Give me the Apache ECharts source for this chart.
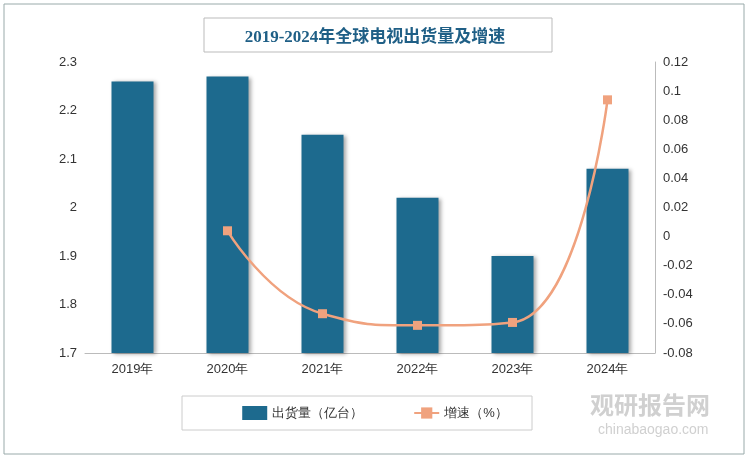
<!DOCTYPE html>
<html><head><meta charset="utf-8">
<script src="https://cdn.jsdelivr.net/npm/echarts@6/dist/echarts.min.js"></script>
<style>body{margin:0}#c{width:750px;height:459px}</style>
</head><body><div id="c"></div>
<script>
var years = ['2019年', '2020年', '2021年', '2022年', '2023年', '2024年'];
var shipments = [2.26, 2.27, 2.15, 2.02, 1.90, 2.08];
var growth = [null, 0.004, -0.053, -0.061, -0.059, 0.094];

var myChart = echarts.init(document.getElementById('c'));
var option = {
    animation: false,
    backgroundColor: '#fff',
    title: {
        text: '2019-2024年全球电视出货量及增速',
        left: 'center',
        top: 24,
        textStyle: {color: '#1f5f86', fontSize: 17, fontWeight: 'bold', fontFamily: 'Liberation Serif, Noto Sans CJK SC'}
    },
    graphic: [
        {type: 'rect', shape: {x: 4, y: 4, width: 740, height: 450}, style: {fill: 'none', stroke: '#9aa', lineWidth: 1}},
        {type: 'rect', shape: {x: 204, y: 18, width: 348, height: 34}, style: {fill: 'none', stroke: '#bbb', lineWidth: 1}},
        {type: 'rect', shape: {x: 182, y: 396, width: 350, height: 34}, style: {fill: 'none', stroke: '#ccc', lineWidth: 1}},
        {type: 'text', left: 590, top: 393, style: {text: '观研报告网', fill: '#d0d0d0', font: 'bold 24px Noto Sans CJK SC'}},
        {type: 'text', left: 598, top: 423, style: {text: 'chinabaogao.com', fill: '#d0d0d0', font: '14px sans-serif'}}
    ],
    legend: {
        bottom: 34,
        left: 'center',
        itemGap: 50,
        textStyle: {fontSize: 13, color: '#333'},
        data: [{name: '出货量（亿台）', icon: 'rect'}, {name: '增速（%）'}]
    },
    grid: {left: 85, right: 95, top: 62, bottom: 106},
    xAxis: {
        type: 'category',
        data: years,
        axisTick: {show: false},
        axisLine: {onZero: false, lineStyle: {color: '#bbb'}},
        axisLabel: {color: '#333', fontSize: 13, margin: 10}
    },
    yAxis: [
        {type: 'value', min: 1.7, max: 2.3, interval: 0.1,
         axisLabel: {color: '#333', fontSize: 13}, axisLine: {show: false}, splitLine: {show: false}},
        {type: 'value', min: -0.08, max: 0.12, interval: 0.02,
         axisLabel: {color: '#333', fontSize: 13}, axisLine: {show: true, lineStyle: {color: '#bbb'}}, splitLine: {show: false}}
    ],
    series: [
        {name: '出货量（亿台）', type: 'bar', data: shipments, barWidth: 42,
         itemStyle: {color: '#1d6a8e', shadowColor: 'rgba(0,0,0,0.35)', shadowBlur: 4, shadowOffsetX: 2, shadowOffsetY: 1}},
        {name: '增速（%）', type: 'line', yAxisIndex: 1, data: growth, smooth: true,
         symbol: 'rect', symbolSize: 9,
         lineStyle: {color: '#f0a27e', width: 2.5},
         itemStyle: {color: '#f0a27e'}}
    ]
};
myChart.setOption(option);
</script></body></html>
